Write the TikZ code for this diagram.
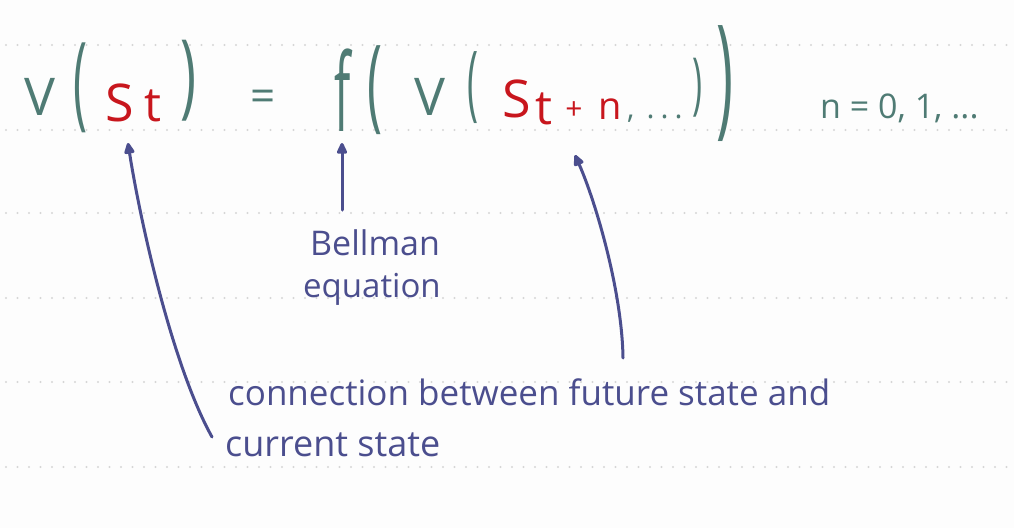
\documentclass[tikz,border=0pt]{standalone}
\usepackage{fontspec}
\setmainfont{Open Sans}
\usetikzlibrary{arrows.meta}
\definecolor{inkteal}{HTML}{4F7B74}
\definecolor{inkred}{HTML}{C8161D}
\definecolor{inkblue}{HTML}{4B4E8E}
\definecolor{dotgray}{HTML}{D6D6D6}
\definecolor{paper}{HTML}{FDFDFD}
\newcommand\fs[1]{\fontsize{#1}{#1}\selectfont}
\newcommand\paren[3]{\resizebox*{#1pt}{#2pt}{#3}}
\tikzset{
  glyph/.style={inner sep=0pt, anchor=center},
  eqt/.style={glyph, text=inkteal},
  eqr/.style={glyph, text=inkred},
  lab/.style={inner sep=0pt, anchor=base west, text=inkblue},
  arr/.style={draw=inkblue, line width=3pt, line cap=round,
    -{Triangle[length=13pt,width=11pt,round]}},
  ruledot/.style={fill=dotgray, draw=none},
}
\begin{document}
\begin{tikzpicture}[x=1pt,y=-1pt]
\useasboundingbox (0,0) rectangle (1014,528);
\fill[paper] (0,0) rectangle (1014,528);
% ruled dotted lines
\foreach \yy in {45,130,213,298,382,467}{
  \foreach \xx in {0,...,87}{
    \fill[ruledot] (6+11.5*\xx,\yy) circle (1.2pt);
  }
}
% equation
\node[eqt, font=\fs{52}] (V1) at (40,97) {V};
\node[eqt, font=\fs{36}] (P1) at (80,88) {\paren{14}{90}{(}};
\node[eqr, font=\fs{52}] (S1) at (120,103) {S};
\node[eqr, font=\fs{48}] (t1) at (153,106) {t};
\node[eqt, font=\fs{36}] (P2) at (188,81) {\paren{16}{81}{)}};
\node[eqt, font=\fs{44}] (eq) at (263,101) {=};
\node[eqt, font=\fs{48}] (f) at (343,90) {\scalebox{1}[2.25]{f}};
\node[eqt, font=\fs{36}] (P3) at (375,90) {\paren{15}{89}{(}};
\node[eqt, font=\fs{52}] (V2) at (430,97) {V};
\node[eqt, font=\fs{36}] (P4) at (473,88) {\paren{11}{72}{(}};
\node[eqr, font=\fs{52}] (S2) at (517,99) {S};
\node[eqr, font=\fs{48}] (t2) at (544,109) {t};
\node[eqr, font=\fs{30}] (plus) at (574,111) {+};
\node[eqr, font=\fs{38}] (n) at (610,109) {n};
\node[inner sep=0pt, anchor=base west, text=inkteal, font=\fs{30}] (dots) at (627,118) {,\hspace{12pt}.\hspace{6pt}.\hspace{6pt}.};
\node[eqt, font=\fs{36}] (P5) at (697,88) {\paren{10}{59}{)}};
\node[eqt, font=\fs{36}] (P6) at (725,84) {\paren{17}{116}{)}};
\node[inner sep=0pt, anchor=base west, text=inkteal, font=\fs{34}] (range) at (820,118) {n = 0, 1, ...};
% labels
\node[lab, font=\fs{34}] (bellman) at (310,255) {Bellman};
\node[lab, font=\fs{33}] (equation) at (303,297) {equation};
\node[lab, font=\fs{35}] (conn) at (228,405) {connection between future state and};
\node[lab, font=\fs{36}] (curr) at (225,456) {current state};
% arrow end points
\coordinate (tailA) at (212,437);
\coordinate (tipA) at (128,143);
\coordinate (tailB) at (342,210);
\coordinate (tipB) at (342,143);
\coordinate (tailC) at (623,358);
\coordinate (tipC) at (575,155);
\draw[arr] (tailA) .. controls (172,365) and (140,220) .. (tipA);
\draw[arr] (tailB) -- (tipB);
\draw[arr] (tailC) .. controls (622,290) and (595,200) .. (tipC);
\end{tikzpicture}
\end{document}
